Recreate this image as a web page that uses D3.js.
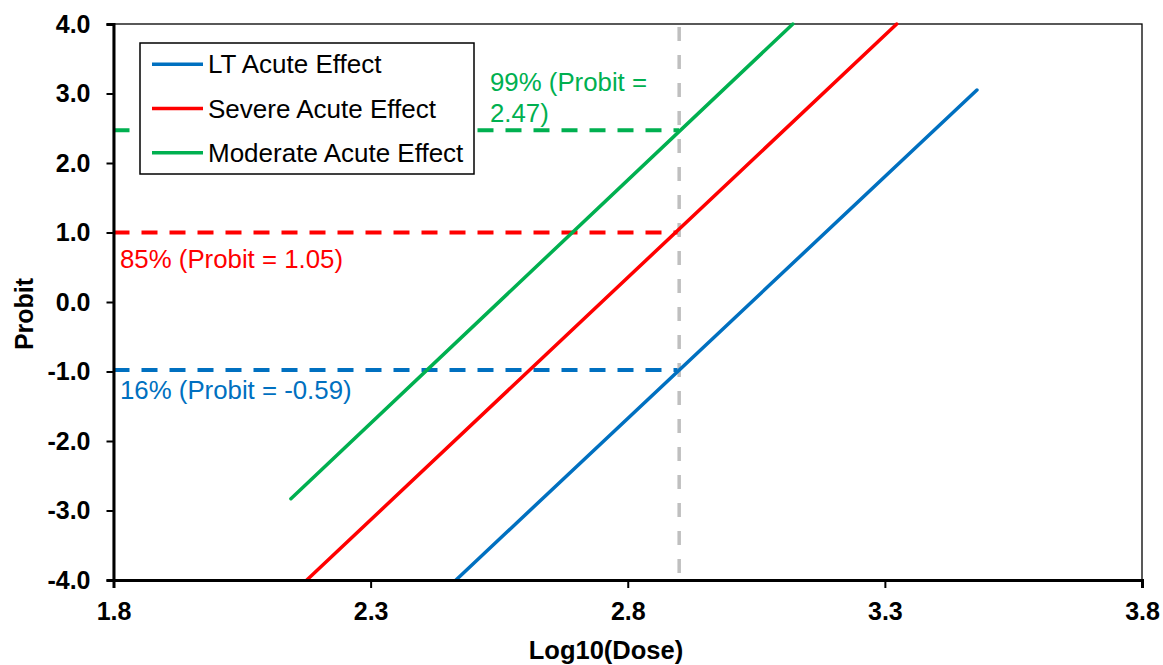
<!DOCTYPE html>
<html>
<head>
<meta charset="utf-8">
<script src="https://cdn.jsdelivr.net/npm/d3@7"></script>
<style>
  html, body { margin: 0; padding: 0; background: #fff; }
  svg { display: block; font-family: "Liberation Sans", Arial, sans-serif; }
</style>
</head>
<body>
<svg id="chart" width="1163" height="665"></svg>
<script>
// Axis ticks
const xTicks = [1.8, 2.3, 2.8, 3.3, 3.8];
const yTicks = [-4, -3, -2, -1, 0, 1, 2, 3, 4];

// Probit lines: name, colour, start point [log10 dose, probit], end point
const seriesNames  = ["LT Acute Effect", "Severe Acute Effect", "Moderate Acute Effect"];
const seriesColors = ["#0070C0", "#FF0000", "#00B050"];
const seriesStart  = [[2.466, -4.0], [2.176, -4.0], [2.145, -2.83]];
const seriesEnd    = [[3.479, 3.05], [3.323, 4.0], [3.121, 4.0]];

// Reference dose and the probit levels read at that dose
const refDose = 2.9;
const refProbits = [-0.98, 1.0, 2.47];
const refLabels = [["16% (Probit = -0.59)"], ["85% (Probit = 1.05)"], ["99% (Probit =", "2.47)"]];

const svg = d3.select("#chart");
const margin = { left: 113.5, right: 1142, top: 24, bottom: 580 };

const x = d3.scaleLinear().domain([1.8, 3.8]).range([margin.left, margin.right]);
const y = d3.scaleLinear().domain([-4, 4]).range([margin.bottom, margin.top]);

const fmt = d => d.toFixed(1);

// Plot-area frame (thin top and right edges)
svg.append("rect")
  .attr("x", x(1.8)).attr("y", y(4))
  .attr("width", x(3.8) - x(1.8)).attr("height", y(-4) - y(4))
  .attr("fill", "none").attr("stroke", "#000").attr("stroke-width", 1.3);

// Horizontal dashed reference lines from the axis to the reference dose
const refG = svg.append("g");
refProbits.forEach((p, i) => {
  refG.append("line")
    .attr("x1", x(1.8)).attr("x2", x(refDose))
    .attr("y1", y(p)).attr("y2", y(p))
    .attr("stroke", seriesColors[i]).attr("stroke-width", 4)
    .attr("stroke-dasharray", "16,12");
});

// Vertical dashed line at the reference dose
svg.append("line")
  .attr("x1", x(refDose)).attr("x2", x(refDose))
  .attr("y1", y(4) + 3).attr("y2", y(-4))
  .attr("stroke", "#BFBFBF").attr("stroke-width", 3.5)
  .attr("stroke-dasharray", "14,14");

// Probit lines
const line = d3.line().x(d => x(d[0])).y(d => y(d[1]));
seriesNames.forEach((n, i) => {
  svg.append("path")
    .datum([seriesStart[i], seriesEnd[i]])
    .attr("d", line)
    .attr("fill", "none")
    .attr("stroke", seriesColors[i])
    .attr("stroke-width", 3.5)
    .attr("stroke-linecap", "round");
});

// Axes
const yAxis = svg.append("g")
  .attr("transform", `translate(${x(1.8)},0)`)
  .call(d3.axisLeft(y).tickValues(yTicks).tickSize(7).tickPadding(16).tickFormat(fmt));
const xAxis = svg.append("g")
  .attr("transform", `translate(0,${y(-4)})`)
  .call(d3.axisBottom(x).tickValues(xTicks).tickSize(8).tickPadding(14).tickFormat(fmt));

[yAxis, xAxis].forEach(g => {
  g.select(".domain").attr("stroke", "#000").attr("stroke-width", 3);
  g.selectAll(".tick line").attr("stroke", "#000").attr("stroke-width", 2);
  g.selectAll(".tick text")
    .attr("fill", "#000")
    .attr("font-family", "'Liberation Sans', Arial, sans-serif")
    .attr("font-size", 25)
    .attr("font-weight", "bold");
});

// Axis titles
svg.append("text")
  .attr("x", 606).attr("y", 659)
  .attr("text-anchor", "middle")
  .attr("font-size", 25.5).attr("font-weight", "bold")
  .text("Log10(Dose)");
svg.append("text")
  .attr("transform", "translate(33,314) rotate(-90)")
  .attr("text-anchor", "middle")
  .attr("font-size", 25).attr("font-weight", "bold")
  .text("Probit");

// Reference labels
const labelPos = [[120, 399], [120, 268], [490, 90.5]];
refLabels.forEach((lines, i) => {
  const t = svg.append("text")
    .attr("x", labelPos[i][0]).attr("y", labelPos[i][1])
    .attr("font-size", 25.8)
    .attr("fill", seriesColors[i]);
  lines.forEach((s, k) => {
    t.append("tspan").attr("x", labelPos[i][0]).attr("dy", k === 0 ? 0 : 31).text(s);
  });
});

// Legend
const legend = svg.append("g");
legend.append("rect")
  .attr("x", 140).attr("y", 43).attr("width", 334).attr("height", 131)
  .attr("fill", "#fff").attr("stroke", "#000").attr("stroke-width", 1.5);
seriesNames.forEach((n, i) => {
  const cy = 64.3 + i * 44.2;
  legend.append("line")
    .attr("x1", 152).attr("x2", 203).attr("y1", cy).attr("y2", cy)
    .attr("stroke", seriesColors[i]).attr("stroke-width", 3.5);
  legend.append("text")
    .attr("x", 208).attr("y", cy + 9)
    .attr("font-size", 26).attr("fill", "#000")
    .text(n);
});
</script>
</body>
</html>
